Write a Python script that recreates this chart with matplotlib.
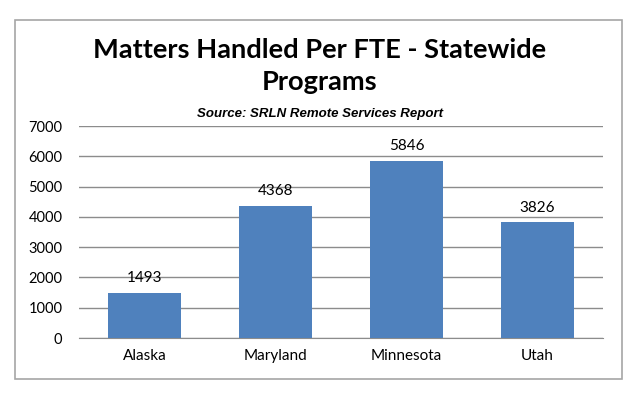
import matplotlib
matplotlib.use("Agg")
import matplotlib.pyplot as plt
from matplotlib.patches import Rectangle

categories = ["Alaska", "Maryland", "Minnesota", "Utah"]
values = [1493, 4368, 5846, 3826]
yticks = [0, 1000, 2000, 3000, 4000, 5000, 6000, 7000]

fig = plt.figure(figsize=(6.4, 3.97), dpi=100)
fig.patches.append(Rectangle((15/640, 1-379/397), (622-15)/640, (379-20)/397,
                             transform=fig.transFigure, fill=False,
                             edgecolor="#a6a6a6", linewidth=1.2))
ax = fig.add_axes([79/640, 1-338/397, (603-79)/640, (338-126)/397])
x = range(len(categories))
bars = ax.bar(x, values, width=0.56, color="#4F81BD", zorder=3)
ax.set_ylim(0, 7000)
ax.set_xlim(-0.5, 3.5)
ax.set_yticks(yticks)
ax.set_yticklabels([str(v) for v in yticks], fontfamily="Lato", fontsize=10.5)
ax.set_xticks(list(x))
ax.set_xticklabels(categories, fontfamily="Lato", fontsize=11)
ax.yaxis.grid(True, color="#8c8c8c", linewidth=1, zorder=0)
for s in ["top", "right", "left"]:
    ax.spines[s].set_visible(False)
ax.spines["bottom"].set_color("#8c8c8c")
ax.tick_params(axis="both", length=0, pad=8)
ax.tick_params(axis="y", pad=12)
for xi, v in zip(x, values):
    ax.text(xi, v + 250, str(v), ha="center", va="bottom", fontfamily="Lato", fontsize=11)

fig.text(0.5, 1-50/397, "Matters Handled Per FTE - Statewide", ha="center", va="center",
         fontfamily="Lato", fontweight="bold", fontsize=19.6)
fig.text(0.5, 1-82/397, "Programs", ha="center", va="center",
         fontfamily="Lato", fontweight="bold", fontsize=19.6)
fig.text(0.5, 1-114/397, "Source: SRLN Remote Services Report", ha="center", va="center",
         fontfamily="Liberation Sans", fontweight="bold", fontstyle="italic", fontsize=9.5)
fig.savefig("out.png", dpi=100)
